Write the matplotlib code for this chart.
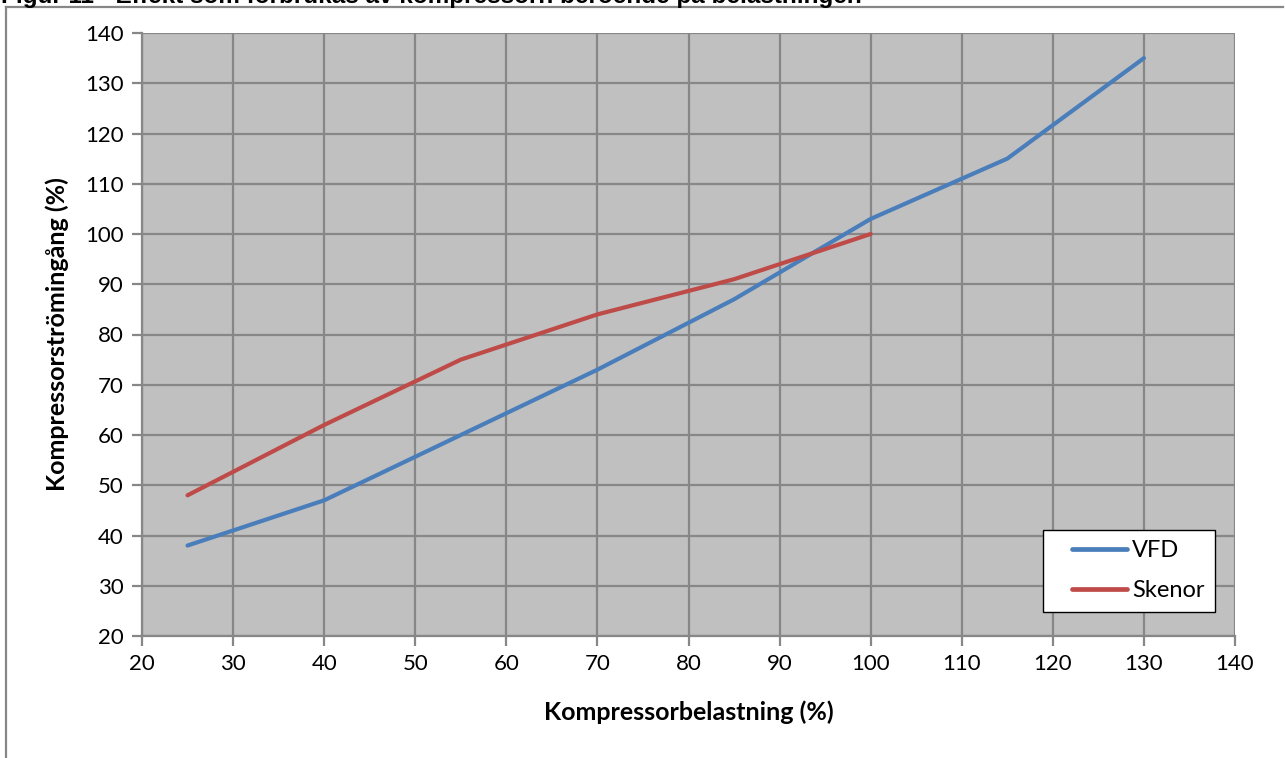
import matplotlib
matplotlib.use("Agg")
import matplotlib.pyplot as plt
from matplotlib.lines import Line2D

# Kompressorbelastning (%) och strömingång (%)
vfd_load = [25, 40, 55, 70, 85, 100, 115, 130]
vfd_current = [38, 47, 60, 73, 87, 103, 115, 135]
skenor_load = [25, 40, 55, 70, 85, 100]
skenor_current = [48, 62, 75, 84, 91, 100]

x_ticks = list(range(20, 141, 10))
y_ticks = list(range(20, 141, 10))

plt.rcParams['font.family'] = ['Lato', 'DejaVu Sans']

fig = plt.figure(figsize=(12.85, 7.58), dpi=100)
ax = fig.add_axes([142 / 1285, 1 - 636 / 758, (1235 - 142) / 1285, (636 - 33) / 758])

ax.set_facecolor('#c0c0c0')
ax.plot(vfd_load, vfd_current, color='#4a7ebb', linewidth=3.0, label='VFD',
        solid_capstyle='round', zorder=3)
ax.plot(skenor_load, skenor_current, color='#be4b48', linewidth=3.0, label='Skenor',
        solid_capstyle='round', zorder=3)

ax.set_xlim(20, 140)
ax.set_ylim(20, 140)
ax.set_xticks(x_ticks)
ax.set_yticks(y_ticks)
ax.grid(True, color='#878787', linewidth=1.6, zorder=1)
ax.set_axisbelow(True)
for side in ['top', 'right']:
    ax.spines[side].set_visible(False)
for side in ['left', 'bottom']:
    ax.spines[side].set_color('#878787')
    ax.spines[side].set_linewidth(1.6)
ax.tick_params(axis='both', direction='out', length=7, width=1.6, color='#878787',
               labelsize=16, pad=6)

ax.set_xlabel('Kompressorbelastning (%)', fontsize=18, fontweight='bold', labelpad=19)
ax.set_ylabel('Kompressorströmingång (%)', fontsize=18, fontweight='bold', labelpad=12)

leg = ax.legend(loc='lower right', bbox_to_anchor=(1215 / 1285, 1 - 612 / 758),
                bbox_transform=fig.transFigure, borderaxespad=0, fontsize=17,
                frameon=True, fancybox=False, handlelength=3.1, labelspacing=0.8,
                borderpad=0.45, handletextpad=0.2)
leg.get_frame().set_edgecolor('black')
leg.get_frame().set_linewidth(1.0)
leg.get_frame().set_facecolor('white')
leg.get_frame().set_alpha(1)
# kortare linjeprov med luft till vänster i förklaringsrutan
for h in leg.get_lines():
    xd = h.get_xdata()
    h.set_xdata([xd[0] + 13, xd[-1]])
    h.set_ydata([h.get_ydata()[0]] * 2)
    h.set_solid_capstyle('round')
    h.set_linewidth(3.4)

# yttre ram runt diagrammet
fig.add_artist(Line2D([6 / 1285, 6 / 1285], [0, 1 - 7 / 758], color='#878787',
                      linewidth=1.6, transform=fig.transFigure))
fig.add_artist(Line2D([6 / 1285, 1283 / 1285], [1 - 7 / 758, 1 - 7 / 758], color='#878787',
                      linewidth=1.6, transform=fig.transFigure))

fig.text(0.001, 1 - 3 / 758, 'Figur 11 - Effekt som förbrukas av kompressorn beroende på belastningen',
         fontsize=17.5, fontweight='bold', family='Liberation Sans', ha='left', va='baseline')

fig.savefig('out.png', dpi=100)
